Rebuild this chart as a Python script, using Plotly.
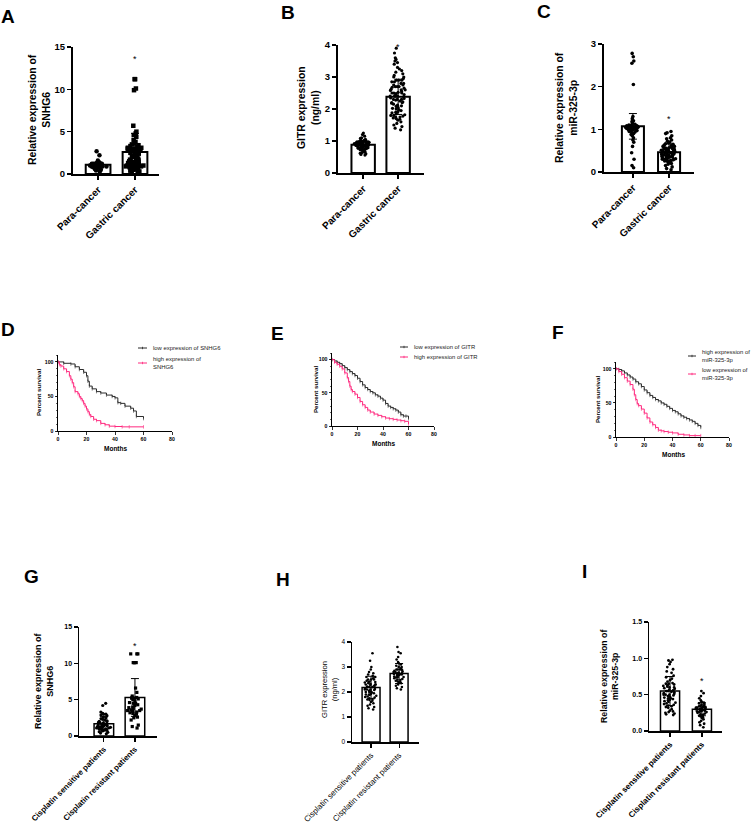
import plotly.graph_objects as go

W, H = 753, 823
def px(x): return x / W
def py(y): return 1 - y / H

FONT = "Liberation Sans, Arial, sans-serif"
PINK = "#ff2a7f"
DARK = "#2b2b2b"

# ---------------- data: bar + scatter panels ----------------
cats_tumor = ["Para-cancer", "Gastric cancer"]
cats_cis = ["Cisplatin sensitive patients", "Cisplatin resistant patients"]

A_means = [1.1, 2.6]
A_sds = [0.3, 2.2]
A_para = [2.7, 2.2, 1.6, 1.4, 1.3, 1.3, 1.2, 1.2, 1.2, 1.1, 1.1, 1.1, 1.1, 1.0, 1.0, 1.0, 1.0, 1.0,
          0.9, 0.9, 0.9, 0.9, 0.9, 0.8, 0.8, 0.8, 0.7, 0.7, 0.6, 0.5, 0.4, 0.3, 1.2, 1.0, 0.9, 1.1,
          1.0, 0.8, 1.3, 1.15]
A_gastric = [11.2, 11.2, 10.1, 9.9, 5.7, 5.0, 4.8, 4.6, 4.4, 4.0, 3.8, 3.6, 3.5, 3.4, 3.3, 3.2, 3.1,
             3.1, 3.0, 3.0, 3.0, 3.0, 2.9, 2.9, 2.8, 2.8, 2.7, 2.6, 2.5, 2.4, 2.3, 2.2, 2.1, 2.0, 1.9,
             1.8, 1.7, 1.6, 1.5, 1.5, 1.4, 1.4, 1.3, 1.3, 1.2, 1.2, 1.1, 1.1, 1.0, 1.0, 1.0, 0.9, 0.9,
             0.9, 0.8, 0.8, 0.7, 0.7, 0.6, 0.5, 0.4, 0.3, 0.2, 0.1, 1.0, 1.2, 3.0, 2.9, 1.4, 0.9]
A_star = 13.8

B_means = [0.88, 2.38]
B_sds = [0.13, 0.55]
B_para = [1.25, 1.2, 1.15, 1.1, 1.08, 1.05, 1.03, 1.02, 1.0, 1.0, 0.99, 0.98, 0.97, 0.97, 0.96, 0.95,
          0.95, 0.94, 0.93, 0.93, 0.92, 0.92, 0.91, 0.9, 0.9, 0.9, 0.89, 0.89, 0.88, 0.88, 0.87, 0.87,
          0.86, 0.86, 0.85, 0.85, 0.84, 0.84, 0.83, 0.83, 0.82, 0.82, 0.81, 0.8, 0.8, 0.79, 0.78, 0.77,
          0.76, 0.75, 0.74, 0.73, 0.72, 0.7, 0.68, 0.66, 0.64, 0.62, 0.6, 0.58, 0.56, 0.92, 0.95, 0.88,
          0.86, 0.9, 0.93, 0.97, 1.01, 0.85]
B_gastric = [3.9, 3.75, 3.6, 3.55, 3.5, 3.45, 3.4, 3.3, 3.25, 3.2, 3.15, 3.1, 3.05, 3.0, 3.0, 2.95, 2.9,
             2.9, 2.85, 2.85, 2.8, 2.8, 2.75, 2.75, 2.7, 2.7, 2.68, 2.65, 2.62, 2.6, 2.58, 2.55, 2.52,
             2.5, 2.5, 2.48, 2.45, 2.42, 2.4, 2.4, 2.38, 2.35, 2.33, 2.3, 2.3, 2.28, 2.25, 2.22, 2.2,
             2.2, 2.18, 2.15, 2.12, 2.1, 2.08, 2.05, 2.02, 2.0, 1.98, 1.95, 1.92, 1.9, 1.88, 1.85, 1.82,
             1.8, 1.78, 1.75, 1.72, 1.7, 1.68, 1.65, 1.6, 1.55, 1.5, 1.45, 1.4, 1.35, 2.6, 2.7, 2.5,
             2.4, 1.75, 1.8, 2.9, 2.3]
B_star = 4.0

C_means = [1.07, 0.46]
C_sds = [0.3, 0.2]
C_para = [2.78, 2.7, 2.6, 2.55, 2.05, 1.3, 1.25, 1.2, 1.18, 1.15, 1.12, 1.1, 1.1, 1.09, 1.08, 1.08, 1.07,
          1.07, 1.06, 1.06, 1.05, 1.05, 1.05, 1.04, 1.04, 1.03, 1.03, 1.02, 1.02, 1.01, 1.0, 1.0, 1.0,
          0.99, 0.98, 0.97, 0.96, 0.95, 0.94, 0.92, 0.9, 0.88, 0.85, 0.8, 0.75, 0.7, 0.6, 0.45, 0.3,
          0.15, 0.1, 1.06, 1.04, 1.08, 1.02, 1.05]
C_gastric = [0.95, 0.92, 0.9, 0.85, 0.8, 0.78, 0.75, 0.72, 0.7, 0.68, 0.66, 0.65, 0.63, 0.62, 0.6, 0.6,
             0.58, 0.57, 0.56, 0.55, 0.54, 0.53, 0.52, 0.51, 0.5, 0.5, 0.49, 0.48, 0.47, 0.46, 0.45,
             0.45, 0.44, 0.43, 0.42, 0.41, 0.4, 0.4, 0.39, 0.38, 0.37, 0.36, 0.35, 0.35, 0.34, 0.33,
             0.32, 0.31, 0.3, 0.3, 0.29, 0.28, 0.27, 0.26, 0.25, 0.24, 0.22, 0.2, 0.18, 0.15, 0.12,
             0.08, 0.05, 0.45, 0.5, 0.4, 0.55, 0.35]
C_star = 1.28

G_means = [1.7, 5.3]
G_sds = [1.0, 2.6]
G_sens = [4.5, 4.2, 3.3, 3.1, 3.0, 3.0, 2.9, 2.8, 2.6, 2.5, 2.4, 2.3, 2.2, 2.1, 2.0, 2.0, 1.9, 1.8, 1.8,
          1.7, 1.6, 1.6, 1.5, 1.5, 1.4, 1.4, 1.3, 1.3, 1.2, 1.2, 1.1, 1.1, 1.0, 1.0, 0.9, 0.9, 0.8, 0.8,
          0.7, 0.6, 0.5, 0.4, 0.3, 1.5, 1.0, 1.2]
G_res = [11.3, 11.3, 11.3, 10.1, 10.1, 10.1, 10.1, 6.6, 6.0, 5.5, 5.3, 5.3, 5.2, 5.2, 5.1, 5.0, 4.8, 4.6,
         4.5, 4.3, 4.2, 4.0, 3.9, 3.8, 3.7, 3.6, 3.5, 3.4, 3.3, 3.2, 3.1, 3.0, 2.8, 2.6, 2.5, 2.2, 1.5,
         1.3, 1.1, 4.5, 3.5]
G_star = 12.6

H_means = [2.18, 2.74]
H_sds = [0.45, 0.4]
H_sens = [3.55, 3.25, 3.0, 2.9, 2.8, 2.75, 2.7, 2.65, 2.6, 2.6, 2.55, 2.5, 2.5, 2.45, 2.42, 2.4, 2.38,
          2.35, 2.32, 2.3, 2.3, 2.28, 2.25, 2.22, 2.2, 2.2, 2.18, 2.15, 2.12, 2.1, 2.1, 2.08, 2.05, 2.02,
          2.0, 2.0, 1.98, 1.95, 1.92, 1.9, 1.88, 1.85, 1.82, 1.8, 1.78, 1.75, 1.72, 1.7, 1.68, 1.65, 1.6,
          1.55, 1.5, 1.45, 1.4, 1.35, 1.3, 2.4, 2.3, 2.5, 2.1, 1.9]
H_res = [3.8, 3.6, 3.55, 3.4, 3.3, 3.2, 3.15, 3.1, 3.05, 3.0, 3.0, 2.95, 2.9, 2.9, 2.88, 2.85, 2.82, 2.8,
         2.78, 2.76, 2.75, 2.74, 2.72, 2.7, 2.7, 2.68, 2.65, 2.62, 2.6, 2.58, 2.55, 2.52, 2.5, 2.48, 2.45,
         2.42, 2.4, 2.38, 2.35, 2.3, 2.25, 2.2, 2.15, 2.1, 2.8, 2.6, 2.7, 2.9]
H_star = 4.25

I_means = [0.55, 0.30]
I_sds = [0.2, 0.09]
I_sens = [0.98, 0.97, 0.95, 0.92, 0.88, 0.85, 0.82, 0.8, 0.76, 0.74, 0.72, 0.7, 0.68, 0.66, 0.65, 0.64,
          0.63, 0.62, 0.61, 0.6, 0.59, 0.58, 0.57, 0.56, 0.55, 0.55, 0.54, 0.53, 0.52, 0.51, 0.5, 0.5,
          0.49, 0.48, 0.47, 0.46, 0.45, 0.44, 0.43, 0.42, 0.41, 0.4, 0.39, 0.38, 0.37, 0.36, 0.35, 0.34,
          0.33, 0.32, 0.3, 0.28, 0.27, 0.26, 0.25, 0.24, 0.23, 0.22, 0.6, 0.65, 0.5, 0.45]
I_res = [0.55, 0.52, 0.48, 0.45, 0.42, 0.4, 0.39, 0.38, 0.37, 0.36, 0.35, 0.34, 0.34, 0.33, 0.33, 0.32,
         0.32, 0.31, 0.31, 0.3, 0.3, 0.3, 0.29, 0.29, 0.28, 0.28, 0.27, 0.27, 0.26, 0.26, 0.25, 0.24,
         0.23, 0.22, 0.21, 0.2, 0.19, 0.18, 0.16, 0.14, 0.12, 0.1, 0.08, 0.05, 0.3, 0.32, 0.28]
I_star = 0.72

# ---------------- data: Kaplan-Meier panels ----------------
D_low_t = [0, 4, 9, 12, 15, 18, 20, 21, 22, 24, 27, 30, 34, 38, 40, 42, 44, 47, 51, 53, 55, 60]
D_low_s = [100, 98, 97, 93, 89, 85, 80, 72, 65, 61, 57, 55, 52, 50, 48, 41, 40, 36, 33, 29, 21, 18]
D_high_t = [0, 1, 2, 4, 6, 8, 9, 10, 11, 12, 14, 15, 16, 17, 18, 19, 20, 21, 22, 23, 25, 27, 30, 33, 36,
            40, 45, 50, 60]
D_high_s = [100, 96, 94, 90, 86, 80, 75, 70, 64, 57, 54, 50, 47, 44, 40, 36, 32, 28, 24, 21, 17, 15, 11,
            9, 7, 6.5, 6, 6, 6]

E_low_t = [0, 2, 4, 6, 8, 10, 12, 14, 16, 18, 20, 22, 24, 26, 28, 30, 32, 34, 36, 38, 40, 42, 44, 46, 48,
           50, 52, 54, 56, 58, 60]
E_low_s = [100, 98, 96, 94, 91, 88, 85, 82, 79, 76, 72, 67, 62, 58, 55, 52, 50, 47, 45, 42, 39, 34, 30,
           28, 26, 24, 21, 17, 15, 15, 11]
E_high_t = [0, 2, 4, 6, 8, 10, 12, 13, 14, 15, 16, 18, 20, 22, 24, 26, 28, 30, 33, 36, 39, 42, 45, 48, 51,
            54, 57, 60]
E_high_s = [100, 96, 93, 90, 86, 80, 73, 67, 60, 55, 52, 48, 43, 37, 32, 28, 24, 21, 18, 16, 14, 12, 11,
            10, 9, 8, 7, 3]

F_high_t = [0, 2, 4, 6, 8, 10, 12, 14, 16, 18, 20, 22, 24, 26, 28, 30, 32, 34, 36, 38, 40, 42, 44, 46, 48,
            50, 52, 54, 56, 58, 60]
F_high_s = [100, 99, 97, 94, 91, 88, 85, 81, 78, 74, 69, 65, 61, 58, 55, 53, 50, 48, 45, 42, 39, 37, 34,
            31, 29, 27, 25, 23, 20, 17, 14]
F_low_t = [0, 2, 4, 6, 8, 10, 12, 13, 14, 15, 16, 18, 20, 22, 24, 26, 28, 30, 32, 34, 37, 40, 44, 48, 52,
           56, 60]
F_low_s = [100, 96, 92, 87, 82, 77, 70, 62, 55, 49, 46, 41, 35, 28, 22, 18, 14, 10, 9, 8, 7, 6, 4, 3, 2,
           2, 2]

# ---------------- layout description ----------------
bar_panels = [
    dict(i=1, L="A", cats=cats_tumor, means=A_means, sds=A_sds, pts=[A_para, A_gastric], star=A_star,
         dx=(73, 159), dy=(47, 174), xr=(-0.68, 1.65), yr=(0, 15), dtick=5, fmt="", bw=0.67,
         msize=[4.5, 4.5], msym=["circle", "square"], bold=True, tfs=9.5, cfs=10,
         title="Relative expression of<br>SNHG6", tfs_t=10.4, tx=39, ty=110, lw=2),
    dict(i=2, L="B", cats=cats_tumor, means=B_means, sds=B_sds, pts=[B_para, B_gastric], star=B_star,
         dx=(338, 424), dy=(45, 173), xr=(-0.72, 1.74), yr=(0, 4), dtick=1, fmt="", bw=0.67,
         msize=[3.2, 3.2], msym=["circle", "circle"], bold=True, tfs=9.5, cfs=10,
         title="GITR expression<br>(ng/ml)", tfs_t=10.4, tx=309, ty=108, lw=2),
    dict(i=3, L="C", cats=cats_tumor, means=C_means, sds=C_sds, pts=[C_para, C_gastric], star=C_star,
         dx=(604, 694), dy=(44, 172), xr=(-0.8, 1.69), yr=(0, 3), dtick=1, fmt="", bw=0.61,
         msize=[3.6, 3.6], msym=["circle", "circle"], bold=True, tfs=9.5, cfs=10,
         title="Relative expression of<br>miR-325-3p", tfs_t=10.4, tx=567, ty=108, lw=2),
    dict(i=7, L="G", cats=cats_cis, means=G_means, sds=G_sds, pts=[G_sens, G_res], star=G_star,
         dx=(79, 157), dy=(627, 736), xr=(-0.8, 1.71), yr=(0, 15), dtick=5, fmt="", bw=0.63,
         msize=[3.2, 3.2], msym=["circle", "square"], bold=True, tfs=7, cfs=7.9,
         title="Relative expression of<br>SNHG6", tfs_t=9, tx=44, ty=681, lw=1.5),
    dict(i=8, L="H", cats=cats_cis, means=H_means, sds=H_sds, pts=[H_sens, H_res], star=H_star,
         dx=(352, 419), dy=(642, 742), xr=(-0.68, 1.71), yr=(0, 4), dtick=1, fmt="", bw=0.64,
         msize=[2.6, 2.6], msym=["circle", "circle"], bold=False, tfs=6.5, cfs=8,
         title="GITR expression<br>(ng/ml)", tfs_t=7.6, tx=329, ty=690, lw=1.5),
    dict(i=9, L="I", cats=cats_cis, means=I_means, sds=I_sds, pts=[I_sens, I_res], star=I_star,
         dx=(649, 722), dy=(622, 731), xr=(-0.66, 1.63), yr=(0, 1.5), dtick=0.5, fmt=".1f", bw=0.6,
         msize=[2.8, 2.8], msym=["circle", "circle"], bold=True, tfs=7, cfs=8.1,
         title="Relative expression of<br>miR-325-3p", tfs_t=8.8, tx=609, ty=677, lw=1.5),
]

km_panels = [
    dict(i=4, L="D", dx=(58, 172), dy=(355, 431),
         curves=[(D_low_t, D_low_s, DARK, "low expression of SNHG6"),
                 (D_high_t, D_high_s, PINK, "high expression of<br>SNHG6")],
         leg=[(138, 147, 151, 348), (138, 147, 151, 363)], ytx=38, yty=393, mx=115, my=448),
    dict(i=5, L="E", dx=(332, 434), dy=(353, 426),
         curves=[(E_low_t, E_low_s, DARK, "low expression of GITR"),
                 (E_high_t, E_high_s, PINK, "high expression of GITR")],
         leg=[(400, 408, 412, 347), (400, 408, 412, 357)], ytx=315, yty=390, mx=383, my=443),
    dict(i=6, L="F", dx=(616, 729), dy=(362, 437),
         curves=[(F_high_t, F_high_s, DARK, "high expression of<br>miR-325-3p"),
                 (F_low_t, F_low_s, PINK, "low expression of<br>miR-325-3p")],
         leg=[(688, 696, 700, 356), (688, 696, 700, 374)], ytx=597, yty=400, mx=673, my=454),
]

letters = {"A": (8, 16), "B": (288, 12), "C": (544, 11), "D": (8, 330), "E": (277, 333),
           "F": (558, 332), "G": (31, 576), "H": (283, 579), "I": (584, 571)}

fig = go.Figure()
layout = dict(template="none", width=W, height=H, autosize=False, margin=dict(l=0, r=0, t=0, b=0, pad=0),
              paper_bgcolor="white", plot_bgcolor="white", showlegend=False,
              boxmode="overlay", barmode="overlay", font=dict(family=FONT, color="black"))
annotations = []
shapes = []

for p in bar_panels:
    i = p["i"]
    xa, ya = f"x{i}", f"y{i}"
    wt = "bold" if p["bold"] else "normal"
    fig.add_trace(go.Bar(x=[0, 1], y=p["means"], width=p["bw"], marker=dict(color="white",
                  line=dict(color="black", width=p["lw"])), xaxis=xa, yaxis=ya, hoverinfo="skip"))
    for k in range(2):
        fig.add_trace(go.Box(x=[k] * len(p["pts"][k]), y=p["pts"][k], boxpoints="all", jitter=0.9,
                             pointpos=0, width=p["bw"] * 0.85,
                             line=dict(color="rgba(0,0,0,0)", width=0), fillcolor="rgba(0,0,0,0)",
                             marker=dict(color="black", size=p["msize"][k], symbol=p["msym"][k],
                                         line=dict(width=0)),
                             xaxis=xa, yaxis=ya, hoverinfo="skip"))
    fig.add_trace(go.Scatter(x=[0, 1], y=p["means"], mode="markers",
                             marker=dict(size=1, color="rgba(0,0,0,0)"),
                             error_y=dict(type="data", array=p["sds"], color="black", thickness=1,
                                          width=4),
                             xaxis=xa, yaxis=ya, hoverinfo="skip", cliponaxis=False))
    layout[f"xaxis{i}"] = dict(domain=[px(p["dx"][0]), px(p["dx"][1])], anchor=ya, range=list(p["xr"]),
                               tickvals=[0, 1], ticktext=p["cats"], tickangle=-45, showline=True,
                               linecolor="black", linewidth=p["lw"], ticks="outside", ticklen=4,
                               tickwidth=p["lw"] * 0.8, tickcolor="black", showgrid=False, zeroline=False,
                               fixedrange=True, automargin=False,
                               tickfont=dict(size=p["cfs"], weight=wt, family=FONT, color="black"))
    layout[f"yaxis{i}"] = dict(domain=[py(p["dy"][1]), py(p["dy"][0])], anchor=xa, range=list(p["yr"]),
                               dtick=p["dtick"], tickformat=p["fmt"], showline=True, linecolor="black",
                               linewidth=p["lw"], ticks="outside", ticklen=4, tickwidth=p["lw"] * 0.8,
                               tickcolor="black", showgrid=False, zeroline=False, fixedrange=True,
                               automargin=False,
                               tickfont=dict(size=p["tfs"], weight=wt, family=FONT, color="black"))
    annotations.append(dict(x=1, y=p["star"], xref=xa, yref=ya, text="*", showarrow=False,
                            xanchor="center", yanchor="middle",
                            font=dict(size=9, family=FONT, color="black"), yshift=-2))
    annotations.append(dict(x=px(p["tx"]), y=py(p["ty"]), xref="paper", yref="paper", text=p["title"],
                            textangle=-90, showarrow=False, align="center", xanchor="center",
                            yanchor="middle",
                            font=dict(size=p["tfs_t"], weight=wt, family=FONT, color="black")))

for p in km_panels:
    i = p["i"]
    xa, ya = f"x{i}", f"y{i}"
    for (t, s, col, name) in p["curves"]:
        fig.add_trace(go.Scatter(x=t, y=s, mode="lines+markers", line=dict(shape="hv", color=col, width=1),
                                 marker=dict(symbol="line-ns-open", size=2.5, color=col,
                                             line=dict(width=0.6, color=col)),
                                 xaxis=xa, yaxis=ya, hoverinfo="skip", cliponaxis=False))
    layout[f"xaxis{i}"] = dict(domain=[px(p["dx"][0]), px(p["dx"][1])], anchor=ya, range=[0, 80], dtick=20,
                               showline=True, linecolor="black", linewidth=1, ticks="outside", ticklen=2.5,
                               tickwidth=0.8, tickcolor="black", showgrid=False, zeroline=False,
                               fixedrange=True, automargin=False,
                               tickfont=dict(size=5.2, weight="bold", family=FONT, color="black"))
    layout[f"yaxis{i}"] = dict(domain=[py(p["dy"][1]), py(p["dy"][0])], anchor=xa, range=[0, 110],
                               tickvals=[0, 50, 100], showline=True, linecolor="black", linewidth=1,
                               ticks="outside", ticklen=2.5, tickwidth=0.8, tickcolor="black",
                               showgrid=False, zeroline=False, fixedrange=True, automargin=False,
                               minor=dict(dtick=10, ticks="outside", ticklen=1.5,
                                          tickwidth=0.6, tickcolor="black", showgrid=False),
                               tickfont=dict(size=5.2, weight="bold", family=FONT, color="black"))
    annotations.append(dict(x=px(p["ytx"]), y=py(p["yty"]), xref="paper", yref="paper",
                            text="Percent survival", textangle=-90, showarrow=False,
                            xanchor="center", yanchor="middle",
                            font=dict(size=6.1, weight="bold", family=FONT, color="black")))
    annotations.append(dict(x=px(p["mx"]), y=py(p["my"]), xref="paper", yref="paper", text="Months",
                            showarrow=False, xanchor="center", yanchor="middle",
                            font=dict(size=6.5, weight="bold", family=FONT, color="black")))
    for (curve, lg) in zip(p["curves"], p["leg"]):
        col, name = curve[2], curve[3]
        x0, x1, tx, ty = lg
        shapes.append(dict(type="line", xref="paper", yref="paper", x0=px(x0), x1=px(x1), y0=py(ty),
                           y1=py(ty), line=dict(color=col, width=1)))
        shapes.append(dict(type="line", xref="paper", yref="paper", x0=px((x0 + x1) / 2),
                           x1=px((x0 + x1) / 2), y0=py(ty - 1.2), y1=py(ty + 1.2),
                           line=dict(color=col, width=0.8)))
        annotations.append(dict(x=px(tx), y=py(ty), xref="paper", yref="paper", text=name, showarrow=False,
                                xanchor="left", yanchor="middle", align="left",
                                font=dict(size=5.9, family=FONT, color="#222")))

for L, (lx, ly) in letters.items():
    annotations.append(dict(x=px(lx), y=py(ly), xref="paper", yref="paper", text=L, showarrow=False,
                            xanchor="center", yanchor="middle",
                            font=dict(size=19, weight="bold", family=FONT, color="black")))

layout["annotations"] = annotations
layout["shapes"] = shapes
fig.update_layout(**layout)
fig.write_html("out.html", config={"displayModeBar": False, "staticPlot": True},
               post_script="document.body.style.margin='0px';document.body.style.padding='0px';")
